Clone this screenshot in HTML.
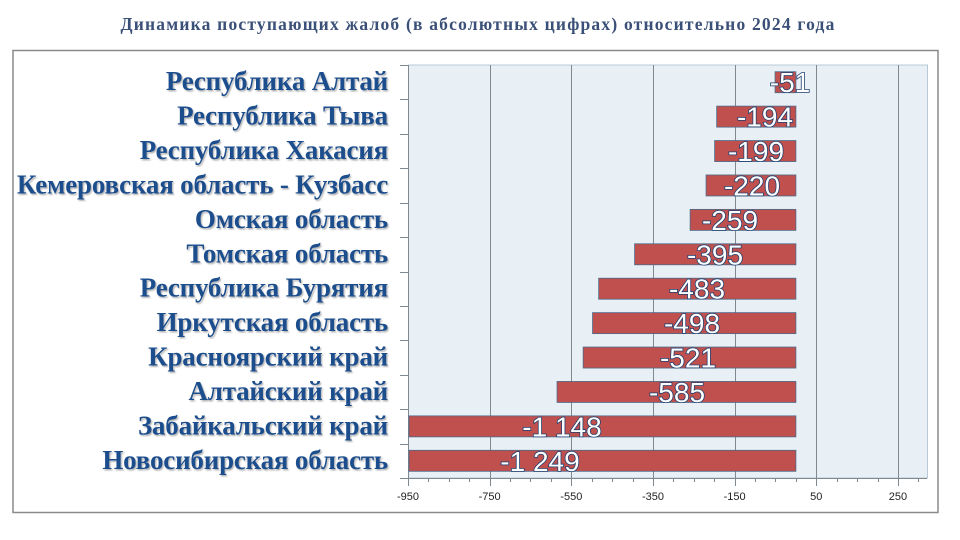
<!DOCTYPE html>
<html><head><meta charset="utf-8"><style>
html,body{margin:0;padding:0;background:#fff;}
svg{display:block;}
.cat{font-family:"Liberation Serif","Noto Serif CJK SC",serif;font-weight:bold;font-size:27px;fill:#1f4e8c;text-anchor:end;letter-spacing:-0.2px;}
.val{font-family:"Liberation Sans","DejaVu Sans",sans-serif;font-size:28px;fill:#fff;stroke:#1f3f70;stroke-width:1.6px;paint-order:stroke;text-anchor:middle;}
.tick{font-family:"Liberation Sans",sans-serif;font-size:11px;fill:#222;text-anchor:middle;stroke:none;}
</style></head><body>
<svg width="960" height="540" viewBox="0 0 960 540" xmlns="http://www.w3.org/2000/svg">
<defs><filter id="sh" x="-5%" y="-20%" width="110%" height="140%"><feDropShadow dx="1.2" dy="1.5" stdDeviation="0.8" flood-color="#000" flood-opacity="0.3"/></filter></defs>
<text x="478" y="30" text-anchor="middle" font-family="Liberation Serif,serif" font-weight="bold" font-size="17.5" fill="#3b5078" letter-spacing="1.2">Динамика поступающих жалоб (в абсолютных цифрах) относительно 2024 года</text>
<rect x="13" y="50.5" width="925" height="462" fill="#fff" stroke="#8a8a8a" stroke-width="1.5"/>
<g id="grid" stroke="#808890" stroke-width="1"></g>
<g stroke="#808890" stroke-width="1" id="ticks"></g>
<g id="axl"></g>
<g id="bars"></g>
<g id="labs"></g>
</svg>
<script>
(function(){
var ns="http://www.w3.org/2000/svg";
function el(t,a,p,txt){var e=document.createElementNS(ns,t);for(var k in a)e.setAttribute(k,a[k]);if(txt!==undefined)e.textContent=txt;document.getElementById(p).appendChild(e);return e;}
var S=0.4083,X0=408,zero=X0+950*S,XR=927;
var data=[["Республика Алтай",-51,790,"-51"],["Республика Тыва",-194,765,"-194"],["Республика Хакасия",-199,756,"-199"],["Кемеровская область - Кузбасс",-220,752,"-220"],["Омская область",-259,730,"-259"],["Томская область",-395,715,"-395"],["Республика Бурятия",-483,697,"-483"],["Иркутская область",-498,692,"-498"],["Красноярский край",-521,688,"-521"],["Алтайский край",-585,677,"-585"],["Забайкальский край",-1148,562,"-1 148"],["Новосибирская область",-1249,540,"-1 249"]];
var T0=65,B0=478,h=(B0-T0)/12;
el('rect',{x:X0+0.5,y:T0,width:XR-X0,height:B0-T0,fill:'#e8eff5',stroke:'#b8c8d8'},'grid');
[-750,-550,-350,-150,50,250].forEach(function(v){var x=Math.round(X0+(v+950)*S)+0.5;el('line',{x1:x,y1:T0,x2:x,y2:B0},'grid');});
el('line',{x1:X0+0.5,y1:T0,x2:X0+0.5,y2:B0},'grid');
el('line',{x1:X0,y1:B0+0.5,x2:XR,y2:B0+0.5},'grid');
for(var i=0;i<=12;i++){var y=Math.round(T0+i*h)+0.5;el('line',{x1:400,y1:y,x2:408,y2:y},'ticks');}
for(var v=-950;v<=300;v+=50){var x=Math.round(X0+(v+950)*S)+0.5;el('line',{x1:x,y1:B0,x2:x,y2:(v+950)%200==0?486:482},'ticks');}
[-950,-750,-550,-350,-150,50,250].forEach(function(v){el('text',{x:X0+(v+950)*S,y:500,'class':'tick'},'axl',String(v));});
data.forEach(function(d,i){var cy=T0+(i+0.5)*h;var x1=Math.max(X0+1,zero+d[1]*S);
el('rect',{x:x1,y:cy-10.5,width:zero-x1,height:21,fill:'#c0504d',stroke:'#4a6a8a','stroke-width':0.8},'bars');
el('text',{x:388,y:cy+8,'class':'cat',filter:'url(#sh)'},'labs',d[0]);
el('text',{x:d[2],y:cy+10,'class':'val'},'labs',d[3]);});
})();
</script>
</body></html>
